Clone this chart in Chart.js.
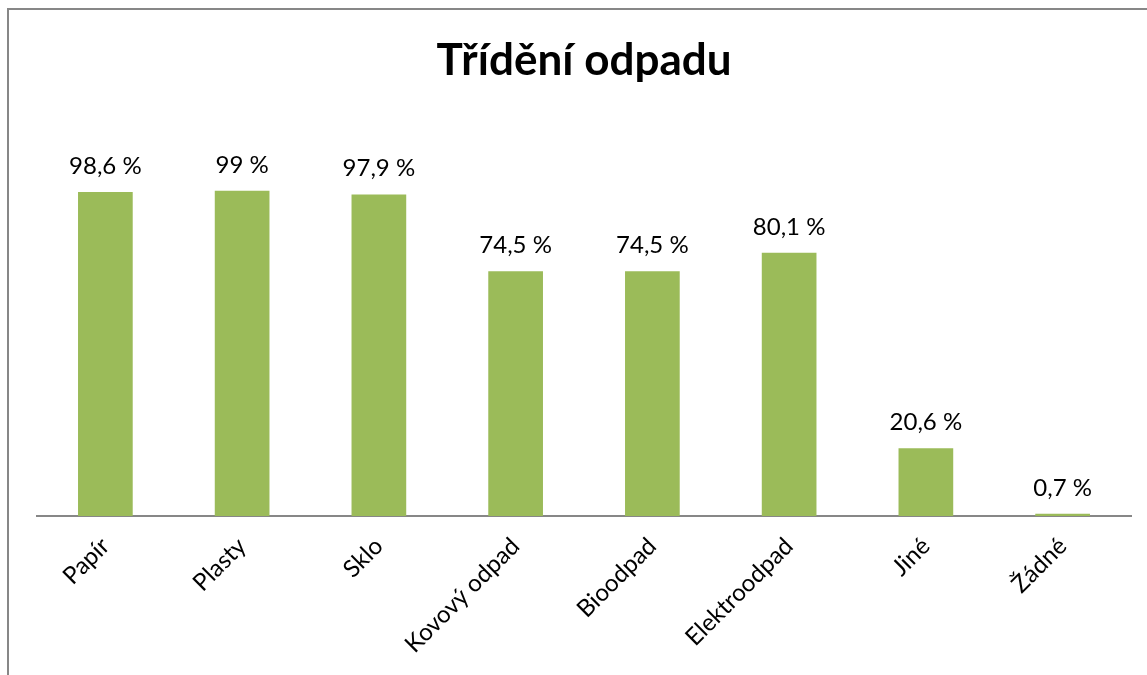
<!DOCTYPE html>
<html lang="cs">
<head>
<meta charset="utf-8">
<title>Třídění odpadu</title>
<script src="https://cdn.jsdelivr.net/npm/chart.js@4/dist/chart.umd.min.js"></script>
<style>
    html, body { margin: 0; padding: 0; background: #fff; }
    #wrap { position: relative; width: 1147px; height: 675px; }
    #frame {
        position: absolute; left: 7px; top: 8px; right: -5px; bottom: -5px;
        border-left: 2px solid #878787; border-top: 2px solid #878787;
        pointer-events: none;
    }
</style>
</head>
<body>
<div id="wrap">
    <canvas id="chart" width="1147" height="675"></canvas>
    <div id="frame"></div>
</div>
<script>
    const categories = ['Papír', 'Plasty', 'Sklo', 'Kovový odpad', 'Bioodpad', 'Elektroodpad', 'Jiné', 'Žádné'];
    const percentValues = [98.6, 99, 97.9, 74.5, 74.5, 80.1, 20.6, 0.7];

    const FONT = "Lato, 'Noto Sans', sans-serif";

    // popisky hodnot nad sloupci
    const valueLabels = {
        id: 'valueLabels',
        afterDatasetsDraw(chart) {
            const ctx = chart.ctx;
            const meta = chart.getDatasetMeta(0);
            ctx.save();
            ctx.font = '24px ' + FONT;
            ctx.fillStyle = '#000';
            ctx.textAlign = 'center';
            ctx.textBaseline = 'alphabetic';
            meta.data.forEach((bar, i) => {
                const txt = String(percentValues[i]).replace('.', ',') + ' %';
                ctx.fillText(txt, bar.x, bar.y - 18);
            });
            ctx.restore();
        }
    };

    new Chart(document.getElementById('chart').getContext('2d'), {
        type: 'bar',
        data: {
            labels: categories,
            datasets: [{
                data: percentValues,
                backgroundColor: '#9BBB59',
                barPercentage: 0.8,
                categoryPercentage: 0.5
            }]
        },
        options: {
            responsive: false,
            animation: false,
            layout: { padding: { left: 37, right: 16, top: 0, bottom: 0 } },
            plugins: {
                legend: { display: false },
                tooltip: { enabled: false },
                title: {
                    display: true,
                    text: 'Třídění odpadu',
                    color: '#000',
                    font: { family: FONT, size: 44, weight: 'bold', lineHeight: 1.2 },
                    padding: { top: 34, bottom: 35 }
                }
            },
            scales: {
                x: {
                    grid: { display: false, drawTicks: false },
                    border: { display: true, color: '#878787', width: 2 },
                    ticks: {
                        color: '#000',
                        font: { family: FONT, size: 24 },
                        minRotation: 45,
                        maxRotation: 45,
                        padding: 16
                    },
                    afterFit: (scale) => { scale.height = 159; }
                },
                y: {
                    display: false,
                    min: 0,
                    max: 120
                }
            }
        },
        plugins: [valueLabels]
    });
</script>
</body>
</html>
